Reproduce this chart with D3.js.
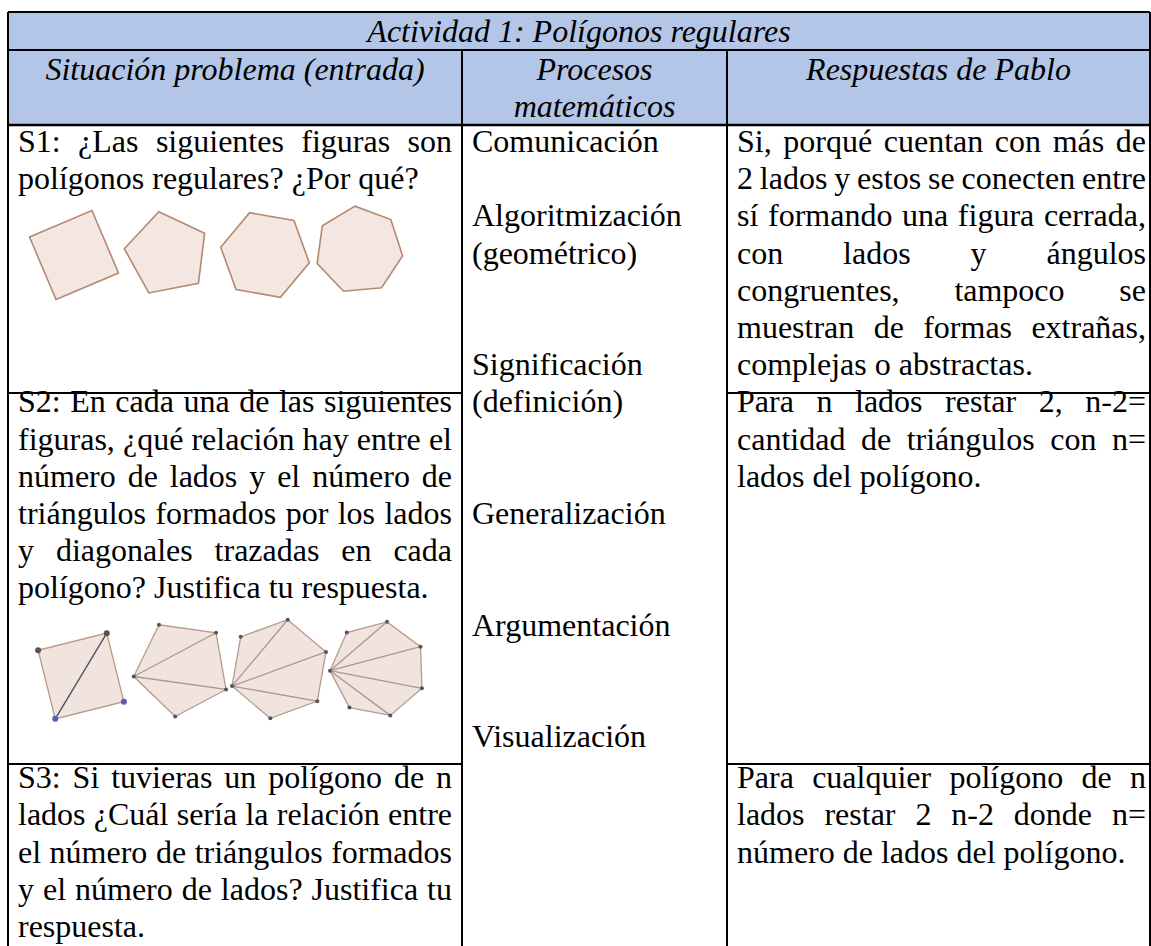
<!DOCTYPE html>
<html>
<head>
<meta charset="utf-8">
<script src="https://cdn.jsdelivr.net/npm/d3@7"></script>
<style>
  html, body { margin: 0; padding: 0; background: #ffffff; }
  svg { display: block; }
  text { font-family: "Liberation Serif", "Times New Roman", serif; font-size: 32px; fill: #000; }
</style>
</head>
<body>
<svg id="chart" width="1151" height="946"></svg>
<script>
// ---------------- DATA ----------------
const title = "Actividad 1: Polígonos regulares";
const headers = [
  ["Situación problema (entrada)"],
  ["Procesos", "matemáticos"],
  ["Respuestas de Pablo"]
];
// each line: [text, justified?]
const situaciones = [
  [["S1: ¿Las siguientes figuras son", true], ["polígonos regulares? ¿Por qué?", false]],
  [["S2: En cada una de las siguientes", true], ["figuras, ¿qué relación hay entre el", true],
   ["número de lados y el número de", true], ["triángulos formados por los lados", true],
   ["y diagonales trazadas en cada", true], ["polígono? Justifica tu respuesta.", false]],
  [["S3: Si tuvieras un polígono de n", true], ["lados ¿Cuál sería la relación entre", true],
   ["el número de triángulos formados", true], ["y el número de lados? Justifica tu", true],
   ["respuesta.", false]]
];
// process labels with their line index (0-based) in the merged column
const procesos = [
  ["Comunicación", 0], ["Algoritmización", 2], ["(geométrico)", 3],
  ["Significación", 6], ["(definición)", 7], ["Generalización", 10],
  ["Argumentación", 13], ["Visualización", 16]
];
const respuestas = [
  [["Si, porqué cuentan con más de", true], ["2 lados y estos se conecten entre", true],
   ["sí formando una figura cerrada,", true], ["con lados y ángulos", true],
   ["congruentes, tampoco se", true], ["muestran de formas extrañas,", true],
   ["complejas o abstractas.", false]],
  [["Para n lados restar 2, n-2=", true], ["cantidad de triángulos con n=", true],
   ["lados del polígono.", false]],
  [["Para cualquier polígono de n", true], ["lados restar 2 n-2 donde n=", true],
   ["número de lados del polígono.", false]]
];
// first body line index for each situation row
const rowStartLine = [0, 7, 17.1];
// figures: [sides, centre x, centre y, radius, angle of first vertex (deg)]
const figuras1 = [
  [4, 74, 255, 48, 202], [5, 167, 254, 43, 187],
  [6, 265, 255, 45, 190], [7, 359, 250, 44, 162]
];
// figures with diagonals: [sides, centre x, centre y, radius, angle of first vertex (deg), fan vertex]
const figuras2 = [
  [4, 81, 676, 50, 211, 3], [5, 182, 668, 49, 170, 0],
  [6, 279, 669, 50, 160, 0], [7, 378, 669, 48, 178, 0]
];

// ---------------- LAYOUT ----------------
const svg = d3.select("#chart");
const W = 1151, H = 946;
const colEdges = [8, 462, 727, 1150];
const topY = 12, titleBottom = 50, headBottom = 125;
const pad = 10;
const firstBase = 152, pitch = 37.2;
const sepY = [393, 764];

const yLine = d3.scaleLinear().domain([0, 1]).range([firstBase, firstBase + pitch]);
const fx = d3.scaleLinear().domain([0, 1]).range([0, 1]);
const fy = d3.scaleLinear().domain([0, 1]).range([0, 1]);

svg.append("rect").attr("x", colEdges[0]).attr("y", topY)
  .attr("width", colEdges[3] - colEdges[0]).attr("height", headBottom - topY)
  .attr("fill", "#b4c6e7");

svg.append("text").attr("x", (colEdges[0] + colEdges[3]) / 2).attr("y", 42)
  .attr("text-anchor", "middle").attr("font-style", "italic").text(title);
headers.forEach((lines, i) => {
  lines.forEach((t, j) => {
    svg.append("text").attr("x", (colEdges[i] + colEdges[i + 1]) / 2)
      .attr("y", 80 + j * pitch).attr("text-anchor", "middle")
      .attr("font-style", "italic").text(t);
  });
});

function drawLine(g, str, x0, x1, y, justify) {
  const words = str.split(" ");
  if (!justify || words.length < 2) {
    g.append("text").attr("x", x0).attr("y", y).text(str);
    return;
  }
  const widths = words.map(w => {
    const t = g.append("text").attr("x", -1000).attr("y", -1000).text(w);
    const wd = t.node().getComputedTextLength();
    t.remove();
    return wd;
  });
  const total = d3.sum(widths);
  const gap = (x1 - x0 - total) / (words.length - 1);
  let x = x0;
  words.forEach((w, k) => {
    g.append("text").attr("x", x).attr("y", y).text(w);
    x += widths[k] + gap;
  });
}

const body = svg.append("g");
situaciones.forEach((lines, r) => {
  lines.forEach(([t, j], k) => {
    drawLine(body, t, colEdges[0] + pad, colEdges[1] - pad, yLine(rowStartLine[r] + k), j);
  });
});
respuestas.forEach((lines, r) => {
  lines.forEach(([t, j], k) => {
    drawLine(body, t, colEdges[2] + pad, colEdges[3] - 4, yLine(rowStartLine[r] + k), j);
  });
});
procesos.forEach(([t, k]) => {
  body.append("text").attr("x", colEdges[1] + pad).attr("y", yLine(k)).text(t);
});

function vertices(spec) {
  const [n, cx, cy, r, a0] = spec;
  return d3.range(n).map(i => {
    const a = (a0 + i * 360 / n) * Math.PI / 180;
    return [fx(cx + r * Math.cos(a)), fy(cy + r * Math.sin(a))];
  });
}
const line = d3.line().curve(d3.curveLinearClosed);
const figG = svg.append("g");
figuras1.forEach(s => {
  figG.append("path").attr("d", line(vertices(s)))
    .attr("fill", "#f4e6e1").attr("stroke", "#b5896f").attr("stroke-width", 1.6);
});
figuras2.forEach((s, idx) => {
  const v = vertices(s);
  const n = v.length, fan = s[5];
  figG.append("path").attr("d", line(v))
    .attr("fill", "#f1e4df").attr("stroke", "#b99a87").attr("stroke-width", 1.3);
  for (let i = 2; i < n - 1; i++) {
    const t = v[(fan + i) % n];
    figG.append("line").attr("x1", v[fan][0]).attr("y1", v[fan][1])
      .attr("x2", t[0]).attr("y2", t[1])
      .attr("stroke", idx === 0 ? "#4a4d5a" : "#a89890").attr("stroke-width", 1.3);
  }
  v.forEach((p, i) => {
    figG.append("circle").attr("cx", p[0]).attr("cy", p[1]).attr("r", idx === 0 ? 3 : 2)
      .attr("fill", idx === 0 && (i === 2 || i === 3) ? "#5b5bb0" : "#555");
  });
});

const bord = svg.append("g").attr("stroke", "#000").attr("fill", "none");
bord.append("line").attr("x1", colEdges[0]).attr("x2", colEdges[3]).attr("y1", topY).attr("y2", topY).attr("stroke-width", 2);
bord.append("line").attr("x1", colEdges[0]).attr("x2", colEdges[3]).attr("y1", titleBottom).attr("y2", titleBottom).attr("stroke-width", 2);
bord.append("line").attr("x1", colEdges[0]).attr("x2", colEdges[3]).attr("y1", headBottom).attr("y2", headBottom).attr("stroke-width", 2.5);
[0, 3].forEach(i => bord.append("line").attr("x1", colEdges[i]).attr("x2", colEdges[i]).attr("y1", topY).attr("y2", H).attr("stroke-width", 2));
[1, 2].forEach(i => bord.append("line").attr("x1", colEdges[i]).attr("x2", colEdges[i]).attr("y1", titleBottom).attr("y2", H).attr("stroke-width", 2));
sepY.forEach(y => {
  bord.append("line").attr("x1", colEdges[0]).attr("x2", colEdges[1]).attr("y1", y).attr("y2", y).attr("stroke-width", 2);
  bord.append("line").attr("x1", colEdges[2]).attr("x2", colEdges[3]).attr("y1", y).attr("y2", y).attr("stroke-width", 2);
});
</script>
</body>
</html>
